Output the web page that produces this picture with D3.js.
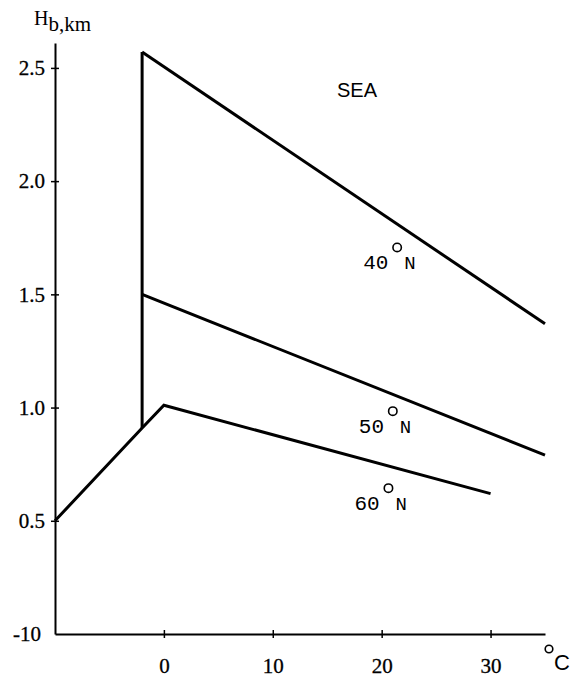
<!DOCTYPE html>
<html>
<head>
<meta charset="utf-8">
<script src="https://cdn.jsdelivr.net/npm/d3@7"></script>
<style>
  html, body { margin: 0; padding: 0; background: #fff; }
  svg { display: block; }
</style>
</head>
<body>
<div id="chart"></div>
<script>
// ---- data ----
const xTicks = [0, 10, 20, 30];
const yTicks = [0.5, 1.0, 1.5, 2.0, 2.5];
const xCornerLabel = "-10";

const temps40 = [-2, 35];
const hb40 = [2.57, 1.37];

const temps50 = [-2, 35];
const hb50 = [1.50, 0.79];

const temps60 = [-10, -2, 0, 30];
const hb60 = [0.50, 0.91, 1.01, 0.62];

const tempsFreeze = [-2, -2];
const hbFreeze = [0.91, 2.57];

const seriesLabels = ["40", "50", "60"];
const labelTemps = [18.3, 17.9, 17.5];
const labelHb = [1.61, 0.887, 0.547];

const seaLabel = { text: "SEA", t: 15.9, h: 2.37 };

// ---- layout ----
const W = 581, H = 679;
const svg = d3.select("#chart").append("svg").attr("width", W).attr("height", H);

const x = d3.scaleLinear().domain([-10, 35]).range([55, 545]);
const y = d3.scaleLinear().domain([0, 2.61]).range([634, 43]);

const serif = "'Liberation Serif', 'Times New Roman', serif";
const sans = "'Liberation Sans', Arial, sans-serif";
const mono = "'Liberation Mono', 'Courier New', monospace";

// y axis
const yAxis = svg.append("g")
  .attr("transform", `translate(${x(-10)},0)`)
  .call(d3.axisLeft(y).tickValues(yTicks).tickFormat(d3.format(".1f")).tickSize(4).tickSizeOuter(0).tickPadding(6));
yAxis.select(".domain").attr("stroke-width", 2);
yAxis.selectAll(".tick line").attr("x1", -4).attr("x2", 4).attr("stroke-width", 1.5);
yAxis.selectAll(".tick text").attr("font-family", serif).attr("font-size", 21).attr("fill", "#000")
  .attr("stroke", "#000").attr("stroke-width", 0.3);

// x axis
const xAxis = svg.append("g")
  .attr("transform", `translate(0,${y(0)})`)
  .call(d3.axisBottom(x).tickValues(xTicks).tickFormat(d3.format("d")).tickSize(4).tickSizeOuter(0).tickPadding(20));
xAxis.select(".domain").attr("stroke-width", 2);
xAxis.selectAll(".tick line").attr("y1", -4).attr("y2", 4).attr("stroke-width", 1.5);
xAxis.selectAll(".tick text").attr("font-family", serif).attr("font-size", 21).attr("fill", "#000")
  .attr("stroke", "#000").attr("stroke-width", 0.3);

// corner label -10
svg.append("text")
  .attr("x", x(-10) - 14).attr("y", y(0))
  .attr("dy", "0.35em")
  .attr("text-anchor", "end")
  .attr("font-family", serif).attr("font-size", 21)
  .attr("stroke", "#000").attr("stroke-width", 0.3)
  .text(xCornerLabel);

// y axis title H_b,km
const yt = svg.append("text")
  .attr("x", 34).attr("y", 25)
  .attr("font-family", serif).attr("font-size", 20);
yt.append("tspan").text("H");
yt.append("tspan").attr("dy", 6).attr("font-size", 21).text("b,km");

// x axis unit °C
svg.append("circle")
  .attr("cx", 549).attr("cy", 649).attr("r", 3.8)
  .attr("fill", "none").attr("stroke", "#000").attr("stroke-width", 1.6);
svg.append("text")
  .attr("x", 554).attr("y", 670)
  .attr("font-family", sans).attr("font-size", 22)
  .text("C");

// ---- lines ----
const line = d3.line().x(d => x(d[0])).y(d => y(d[1]));
const series = [
  d3.zip(tempsFreeze, hbFreeze),
  d3.zip(temps40, hb40),
  d3.zip(temps50, hb50),
  d3.zip(temps60, hb60)
];
svg.append("g").selectAll("path").data(series).join("path")
  .attr("d", line)
  .attr("fill", "none")
  .attr("stroke", "#000")
  .attr("stroke-width", 3)
  .attr("stroke-linejoin", "miter");

// ---- labels ----
svg.append("text")
  .attr("x", x(seaLabel.t)).attr("y", y(seaLabel.h))
  .attr("font-family", sans).attr("font-size", 20)
  .text(seaLabel.text);

seriesLabels.forEach((s, i) => {
  const lx = x(labelTemps[i]), ly = y(labelHb[i]);
  const g = svg.append("g");
  g.append("text").attr("x", lx).attr("y", ly)
    .attr("font-family", mono).attr("font-size", 21).text(s);
  g.append("circle").attr("cx", lx + 34).attr("cy", ly - 22).attr("r", 4.2)
    .attr("fill", "none").attr("stroke", "#000").attr("stroke-width", 1.6);
  g.append("text").attr("x", lx + 41).attr("y", ly)
    .attr("font-family", mono).attr("font-size", 19).text("N");
});
</script>
</body>
</html>
